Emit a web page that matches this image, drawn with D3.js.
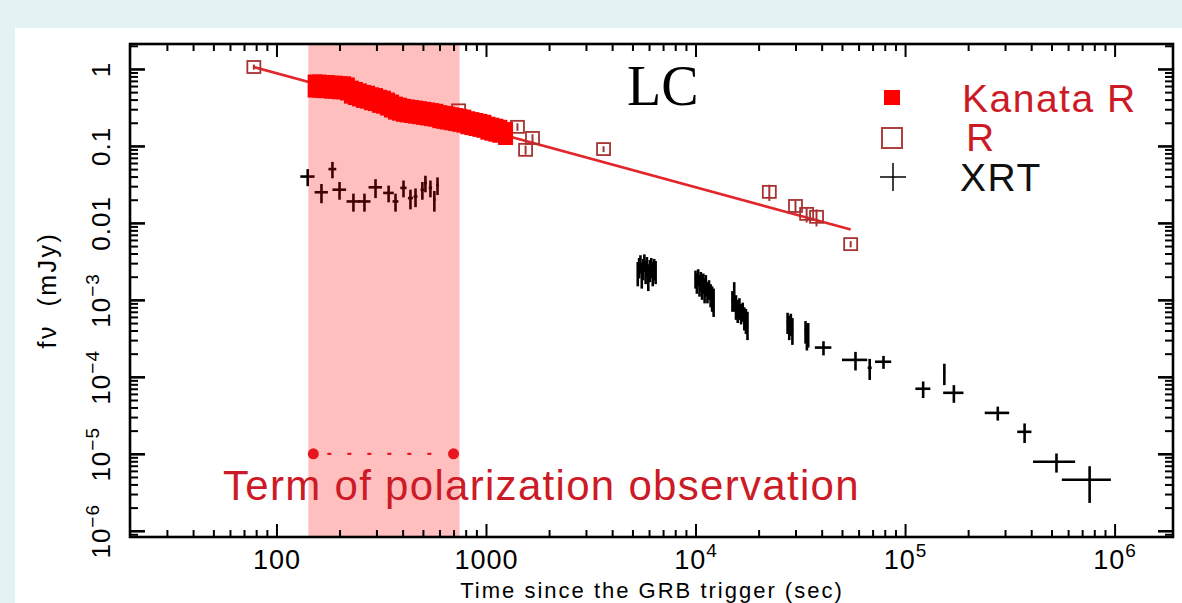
<!DOCTYPE html>
<html>
<head>
<meta charset="utf-8">
<script src="https://cdn.jsdelivr.net/npm/d3@7"></script>
<style>
  html, body { margin: 0; padding: 0; background: #e3f2f3; }
  svg { display: block; }
  text { font-family: "Liberation Sans", Arial, sans-serif; }
  text.serif { font-family: "Liberation Serif", "Times New Roman", serif; }
</style>
</head>
<body>
<svg id="chart" width="1182" height="603"></svg>
<script>
// ---------------- data ----------------
// Axis ranges (seconds since trigger, flux density in mJy)
const xDomain = [20, 1.9e6];
const yDomain = [8.3e-7, 2.11];
const xMajorTicks = [100, 1000, 1e4, 1e5, 1e6];
const yMajorTicks = [1e-6, 1e-5, 1e-4, 1e-3, 0.01, 0.1, 1];

// Kanata R-band photometry
const kanataTime = [153, 160, 167, 175, 183, 191, 200, 209, 218, 228, 238, 249, 260, 272, 284, 297,
  310, 324, 339, 354, 370, 387, 404, 422, 441, 461, 482, 504, 527, 551, 576, 602, 629, 657, 687,
  718, 750, 784, 819, 856, 895, 935, 977, 1021, 1067, 1115, 1165, 1240];
const kanataFlux = [0.60, 0.60, 0.59, 0.59, 0.58, 0.58, 0.57, 0.57, 0.55, 0.50, 0.48, 0.46, 0.44, 0.43,
  0.41, 0.40, 0.38, 0.37, 0.35, 0.33, 0.31, 0.30, 0.29, 0.285, 0.28, 0.275, 0.27, 0.265, 0.26, 0.255,
  0.25, 0.24, 0.235, 0.23, 0.225, 0.22, 0.215, 0.21, 0.20, 0.195, 0.19, 0.185, 0.18, 0.17, 0.165,
  0.16, 0.155, 0.145];

// Other R-band measurements
const rTime = [78, 740, 1413, 1545, 1667, 3640, 22500, 30000, 33900, 37800, 55000];
const rFlux = [1.06, 0.29, 0.177, 0.089, 0.127, 0.091, 0.0253, 0.0166, 0.0131, 0.0120, 0.0053];
const rFluxErr = [0.08, 0.02, 0.02, 0.012, 0.015, 0.008, 0.006, 0.003, 0.003, 0.003, 0.0005];

// Power-law decay fitted to the R band (end points)
const fitTime = [78, 55000];
const fitFlux = [1.06, 0.0082];

// Swift XRT light curve
const xrtTime = [
  141, 164, 185, 200, 233, 263, 297, 343, 370, 404, 436, 461, 497, 514, 543, 567, 587,
  5300, 5380, 5460, 5540, 5620, 5700, 5780, 5860, 5950, 6050, 6150, 6250, 6350, 6450,
  10000, 10150, 10300, 10450, 10600, 10750, 10900, 11050, 11200, 11400, 11600, 11800, 12000, 12200,
  15000, 15300, 15600, 15900, 16200, 16500, 16800, 17100, 17400, 17700,
  27500, 28000, 28500, 29000,
  33500, 34000, 34500,
  40800, 58000, 67800, 78900, 122000, 154000, 171000, 277000, 372000, 528000, 760000];
const xrtFlux = [
  0.040, 0.025, 0.050, 0.027, 0.019, 0.019, 0.029, 0.0245, 0.019, 0.0285, 0.021, 0.022, 0.027, 0.033, 0.0285, 0.020, 0.031,
  0.0023, 0.0027, 0.0030, 0.0022, 0.0026, 0.0031, 0.0024, 0.0028, 0.0021, 0.0025, 0.0027, 0.0023, 0.0026, 0.0024,
  0.0019, 0.0017, 0.0020, 0.0016, 0.0018, 0.0015, 0.0017, 0.0014, 0.0016, 0.0013, 0.0014, 0.0012, 0.0011, 0.0010,
  0.0010, 0.0012, 0.00085, 0.00075, 0.00080, 0.00068, 0.00072, 0.00060, 0.00056, 0.00050,
  5.2e-4, 4.6e-4, 5.0e-4, 4.2e-4,
  4.0e-4, 3.5e-4, 3.7e-4,
  2.4e-4, 1.66e-4, 1.31e-4, 1.57e-4, 7.0e-5, 1.13e-4, 6.2e-5, 3.4e-5, 1.93e-5, 7.9e-6, 4.6e-6];
const xrtTimeErr = [
  11, 12, 8, 15, 17, 18, 22, 20, 12, 14, 12, 10, 10, 8, 10, 8, 8,
  50, 50, 50, 50, 50, 50, 50, 50, 50, 50, 50, 50, 50, 50,
  90, 90, 90, 90, 90, 90, 90, 90, 90, 90, 90, 90, 90, 90,
  140, 140, 140, 140, 140, 140, 140, 140, 140, 140,
  250, 250, 250, 250,
  300, 300, 300,
  3700, 8000, 1500, 7000, 10000, 1500, 19000, 37000, 29000, 120000, 200000];
const xrtFluxErr = [
  0.010, 0.007, 0.012, 0.007, 0.005, 0.005, 0.008, 0.006, 0.005, 0.007, 0.006, 0.006, 0.007, 0.008, 0.007, 0.006, 0.008,
  0.0008, 0.0008, 0.0008, 0.0008, 0.0008, 0.0008, 0.0008, 0.0008, 0.0008, 0.0008, 0.0008, 0.0008, 0.0008, 0.0008,
  0.0005, 0.0005, 0.0005, 0.0005, 0.0005, 0.0005, 0.0005, 0.0005, 0.0005, 0.0004, 0.0004, 0.0004, 0.0004, 0.0004,
  0.0003, 0.0005, 0.0003, 0.00025, 0.00025, 0.0002, 0.0002, 0.0002, 0.0002, 0.0002,
  1.6e-4, 1.6e-4, 1.6e-4, 1.6e-4,
  1.3e-4, 1.3e-4, 1.3e-4,
  0.5e-4, 0.45e-4, 0.4e-4, 0.3e-4, 1.7e-5, 0.35e-4, 1.6e-5, 0.7e-5, 0.55e-5, 2.2e-6, 2.3e-6];

// Polarimetry window
const polBand = [142, 748];
const polTerm = [150, 700];
const polLevel = 1e-5;

const legendLabels = ["Kanata R", "R", "XRT"];

// ---------------- layout ----------------
const W = 1182, H = 603;
const plot = { left: 130, top: 44, right: 1173, bottom: 537 };
const RED = "#ff0000", DARKRED = "#a83232", TEXTRED = "#cc1b27";

const svg = d3.select("#chart");
svg.append("rect").attr("width", W).attr("height", H).attr("fill", "#e3f2f3");
svg.append("rect").attr("x", 15).attr("y", 28).attr("width", W - 15).attr("height", H - 28).attr("fill", "#ffffff");

const x = d3.scaleLog().domain(xDomain).range([plot.left, plot.right]);
const y = d3.scaleLog().domain(yDomain).range([plot.bottom, plot.top]);

svg.append("clipPath").attr("id", "clip").append("rect")
  .attr("x", plot.left).attr("y", plot.top)
  .attr("width", plot.right - plot.left).attr("height", plot.bottom - plot.top);
const g = svg.append("g").attr("clip-path", "url(#clip)");

// fitted decay
g.append("path")
  .datum(fitTime.map((t, i) => [t, fitFlux[i]]))
  .attr("fill", "none").attr("stroke", "#e3262b").attr("stroke-width", 2.6)
  .attr("d", d3.line().x(d => x(d[0])).y(d => y(d[1])));

// other R-band points: open squares with error bars
const rg = g.append("g");
rTime.forEach((t, i) => {
  rg.append("line")
    .attr("x1", x(t)).attr("x2", x(t))
    .attr("y1", y(rFlux[i] + rFluxErr[i])).attr("y2", y(rFlux[i] - rFluxErr[i]))
    .attr("stroke", DARKRED).attr("stroke-width", 2);
  rg.append("rect")
    .attr("x", x(t) - 6.5).attr("y", y(rFlux[i]) - 6)
    .attr("width", 13).attr("height", 12)
    .attr("fill", "none").attr("stroke", DARKRED).attr("stroke-width", 1.8);
});

// Kanata: filled squares
g.append("g").selectAll("rect")
  .data(kanataTime.map((t, i) => [t, kanataFlux[i]]))
  .join("rect")
  .attr("x", d => x(d[0]) - 7.5).attr("y", d => y(d[1]) - 11.5)
  .attr("width", 15).attr("height", 23)
  .attr("fill", RED);

// XRT: crosses
const xg = g.append("g").attr("stroke", "#000").attr("stroke-width", 2.6);
xrtTime.forEach((t, i) => {
  const f = xrtFlux[i];
  xg.append("line")
    .attr("x1", x(t - xrtTimeErr[i])).attr("x2", x(t + xrtTimeErr[i]))
    .attr("y1", y(f)).attr("y2", y(f));
  xg.append("line")
    .attr("x1", x(t)).attr("x2", x(t))
    .attr("y1", y(f + xrtFluxErr[i])).attr("y2", y(f - xrtFluxErr[i]));
});

// polarimetry window shading
g.append("rect")
  .attr("x", x(polBand[0])).attr("y", plot.top)
  .attr("width", x(polBand[1]) - x(polBand[0])).attr("height", plot.bottom - plot.top)
  .attr("fill", RED).attr("fill-opacity", 0.25);

// polarimetry term marker
g.append("line")
  .attr("x1", x(polTerm[0]) + 14).attr("x2", x(polTerm[1]) - 8)
  .attr("y1", y(polLevel)).attr("y2", y(polLevel))
  .attr("stroke", "#e8141e").attr("stroke-width", 2.2)
  .attr("stroke-dasharray", "4 16");
g.selectAll("circle.pol").data(polTerm).join("circle")
  .attr("cx", d => x(d)).attr("cy", y(polLevel)).attr("r", 5.5).attr("fill", "#e8141e");

svg.append("text")
  .attr("x", 223).attr("y", 500)
  .attr("font-size", 42).attr("letter-spacing", 1.3)
  .attr("fill", TEXTRED)
  .text("Term of polarization observation");

// ---------------- axes ----------------
function minorTicks(domain) {
  const out = [];
  for (let e = Math.floor(Math.log10(domain[0])); e <= Math.ceil(Math.log10(domain[1])); e++) {
    for (let k = 2; k <= 9; k++) {
      const v = k * Math.pow(10, e);
      if (v > domain[0] && v < domain[1]) out.push(v);
    }
  }
  return out;
}
const xMinor = minorTicks(xDomain), yMinor = minorTicks(yDomain);

function styleAxis(sel) {
  sel.select(".domain").remove();
  sel.selectAll("line").attr("stroke", "#000").attr("stroke-width", 2);
  sel.attr("font-family", null).attr("font-size", null);
}

// bottom
const gb = svg.append("g").attr("transform", `translate(0,${plot.bottom})`);
gb.call(d3.axisBottom(x).tickValues(xMajorTicks).tickSize(-13).tickSizeOuter(0).tickPadding(0));
gb.call(styleAxis);
gb.selectAll(".tick text").each(function (d) {
  const t = d3.select(this);
  t.text(null).attr("y", 32).attr("dy", null).attr("font-size", 27)
    .attr("letter-spacing", 1).attr("fill", "#000");
  if (d < 1e4) t.text(d3.format("d")(d));
  else {
    t.append("tspan").text("10");
    t.append("tspan").attr("dy", -12).attr("font-size", 19).text(Math.round(Math.log10(d)));
  }
});
svg.append("g").attr("transform", `translate(0,${plot.bottom})`)
  .call(d3.axisBottom(x).tickValues(xMinor).tickSize(-7).tickSizeOuter(0).tickFormat(""))
  .call(styleAxis);

// top
svg.append("g").attr("transform", `translate(0,${plot.top})`)
  .call(d3.axisTop(x).tickValues(xMajorTicks).tickSize(-13).tickSizeOuter(0).tickFormat(""))
  .call(styleAxis);
svg.append("g").attr("transform", `translate(0,${plot.top})`)
  .call(d3.axisTop(x).tickValues(xMinor).tickSize(-7).tickSizeOuter(0).tickFormat(""))
  .call(styleAxis);

// left
const gl = svg.append("g").attr("transform", `translate(${plot.left},0)`);
gl.call(d3.axisLeft(y).tickValues(yMajorTicks).tickSize(-15).tickSizeOuter(0).tickPadding(0));
gl.call(styleAxis);
gl.selectAll(".tick line").attr("stroke-width", 2.6);
gl.selectAll(".tick text").each(function (d) {
  const t = d3.select(this);
  t.text(null).attr("x", null).attr("dy", null)
    .attr("transform", "translate(-20,0) rotate(-90)")
    .attr("text-anchor", "middle").attr("font-size", 26)
    .attr("letter-spacing", 1).attr("fill", "#000");
  if (d >= 0.01) t.text(String(d));
  else {
    t.append("tspan").text("10");
    t.append("tspan").attr("dy", -11).attr("font-size", 19).text("\u2212" + Math.round(-Math.log10(d)));
  }
});
svg.append("g").attr("transform", `translate(${plot.left},0)`)
  .call(d3.axisLeft(y).tickValues(yMinor).tickSize(-8).tickSizeOuter(0).tickFormat(""))
  .call(styleAxis);

// right
svg.append("g").attr("transform", `translate(${plot.right},0)`)
  .call(d3.axisRight(y).tickValues(yMajorTicks).tickSize(-15).tickSizeOuter(0).tickFormat(""))
  .call(styleAxis)
  .call(s => s.selectAll("line").attr("stroke-width", 2.6));
svg.append("g").attr("transform", `translate(${plot.right},0)`)
  .call(d3.axisRight(y).tickValues(yMinor).tickSize(-8).tickSizeOuter(0).tickFormat(""))
  .call(styleAxis);

// frame
svg.append("rect")
  .attr("x", plot.left).attr("y", plot.top)
  .attr("width", plot.right - plot.left).attr("height", plot.bottom - plot.top)
  .attr("fill", "none").attr("stroke", "#000").attr("stroke-width", 2.6);

// axis titles
svg.append("text")
  .attr("x", 652).attr("y", 598).attr("text-anchor", "middle")
  .attr("font-size", 22).attr("letter-spacing", 2).attr("fill", "#000")
  .text("Time since the GRB trigger (sec)");
svg.append("text")
  .attr("transform", "translate(56,290) rotate(-90)")
  .attr("text-anchor", "middle")
  .attr("font-size", 25).attr("letter-spacing", 2.5).attr("word-spacing", 8).attr("fill", "#000")
  .text("f\u03bd (mJy)");

// panel tag
svg.append("text")
  .attr("class", "serif")
  .attr("x", 627).attr("y", 105)
  .attr("font-size", 56).attr("fill", "#000")
  .text("LC");

// ---------------- legend ----------------
const lg = svg.append("g");
lg.append("rect").attr("x", 884).attr("y", 90).attr("width", 16).attr("height", 15).attr("fill", RED);
lg.append("rect").attr("x", 882).attr("y", 128).attr("width", 20).attr("height", 20)
  .attr("fill", "none").attr("stroke", "#b04040").attr("stroke-width", 2);
lg.append("line").attr("x1", 880).attr("x2", 906).attr("y1", 177).attr("y2", 177).attr("stroke", "#000").attr("stroke-width", 1.5);
lg.append("line").attr("x1", 893).attr("x2", 893).attr("y1", 163).attr("y2", 191).attr("stroke", "#000").attr("stroke-width", 1.5);
const legendPos = [[962, 112, TEXTRED], [966, 151, TEXTRED], [960, 191, "#111"]];
legendLabels.forEach((s, i) => {
  lg.append("text")
    .attr("x", legendPos[i][0]).attr("y", legendPos[i][1])
    .attr("font-size", 39).attr("letter-spacing", 1.5)
    .attr("fill", legendPos[i][2])
    .text(s);
});
</script>
</body>
</html>
